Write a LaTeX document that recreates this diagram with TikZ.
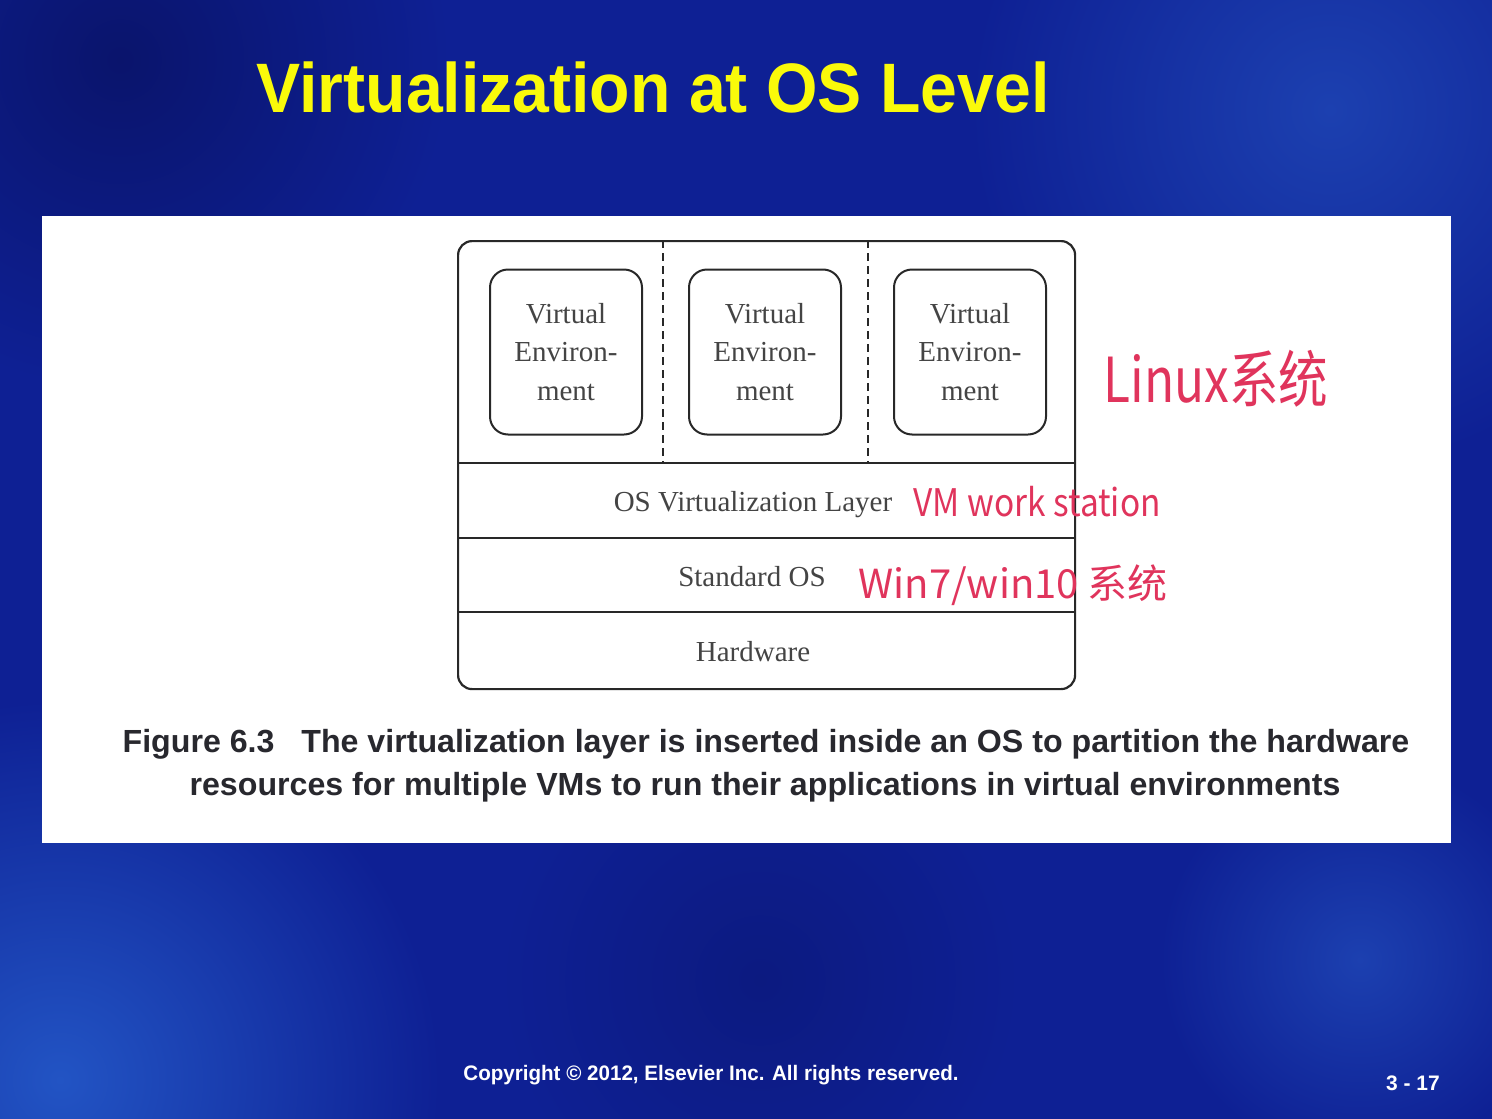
\documentclass[tikz,border=0pt]{standalone}
\usepackage{graphicx}
\usepackage{fontspec}
\setmainfont{Liberation Serif}
\setsansfont{Liberation Sans}
\newfontfamily\handfont{Noto Sans CJK SC}

\definecolor{slidebg}{RGB}{14,32,148}
\definecolor{slidedark}{RGB}{10,20,108}
\definecolor{slidedeep}{RGB}{12,26,128}
\definecolor{slidelight}{RGB}{34,84,196}
\definecolor{slidesoft}{RGB}{28,64,176}
\definecolor{titleyellow}{RGB}{250,250,10}
\definecolor{inkred}{RGB}{224,52,92}
\definecolor{figtext}{RGB}{68,68,68}
\definecolor{figline}{RGB}{40,40,40}
\definecolor{captext}{RGB}{40,40,46}

\tikzset{
  divider/.style={draw=figline, line width=2.6pt},
  partline/.style={draw=figline, line width=2pt, dash pattern=on 8pt off 5pt},
  vebox/.style={draw=figline, line width=2pt, rounded corners=18pt, fill=white,
    minimum width=152pt, minimum height=165pt, inner sep=0pt},
  vetext/.style={font=\fontsize{29}{38.5}\selectfont, text=figtext, align=center},
  layertext/.style={font=\fontsize{29}{34}\selectfont, text=figtext, anchor=base},
  handnote/.style={text=inkred, anchor=base west},
  captionline/.style={font=\sffamily\bfseries\fontsize{32}{43}\selectfont, text=captext, anchor=base},
  footer/.style={font=\sffamily\bfseries\fontsize{21}{24}\selectfont, text=white, anchor=base},
}

\begin{document}
\begin{tikzpicture}[x=1pt,y=-1pt]
  % slide background with soft light and dark patches
  \begin{scope}
    \clip (0,0) rectangle (1492,1119);
    \fill[slidebg] (0,0) rectangle (1492,1119);
    \shade[inner color=slidedark, outer color=slidebg] (120,60) circle[radius=330];
    \shade[inner color=slidesoft, outer color=slidebg] (1330,110) circle[radius=360];
    \shade[inner color=slidelight, outer color=slidebg] (60,1080) circle[radius=380];
    \shade[inner color=slidedeep, outer color=slidebg] (760,980) circle[radius=260];
    \shade[inner color=slidesoft, outer color=slidebg] (1360,960) circle[radius=200];
  \end{scope}
  \useasboundingbox (0,0) rectangle (1492,1119);

  % title
  \node (title) [font=\sffamily\bfseries\fontsize{70}{74}\selectfont, text=titleyellow, anchor=base]
    at (653,112) {\scalebox{0.945}[1]{Virtualization at OS Level}};

  % white figure panel
  \node (panel) [fill=white, minimum width=1409pt, minimum height=627pt, inner sep=0pt,
    anchor=north west] at (42,216) {};

  % outer frame of the stack
  \node (stack) [draw=figline, line width=2.2pt, rounded corners=14pt,
    minimum width=617pt, minimum height=448pt, inner sep=0pt, anchor=north west] at (457,240) {};

  % layer dividers
  \coordinate (d1l) at (457,463); \coordinate (d1r) at (1074,463);
  \coordinate (d2l) at (457,538); \coordinate (d2r) at (1074,538);
  \coordinate (d3l) at (457,612); \coordinate (d3r) at (1074,612);
  \draw[divider] (d1l) -- (d1r);
  \draw[divider] (d2l) -- (d2r);
  \draw[divider] (d3l) -- (d3r);

  % partitions between virtual environments
  \coordinate (p1t) at (663,240); \coordinate (p1b) at (663,463);
  \coordinate (p2t) at (868,240); \coordinate (p2b) at (868,463);
  \draw[partline] (p1t) -- (p1b);
  \draw[partline] (p2t) -- (p2b);

  % virtual environments
  \node (ve1) [vebox] at (566,352) {};
  \node (ve2) [vebox] at (765,352) {};
  \node (ve3) [vebox] at (970,352) {};
  \node[vetext] at (ve1) {Virtual\\Environ-\\ment};
  \node[vetext] at (ve2) {Virtual\\Environ-\\ment};
  \node[vetext] at (ve3) {Virtual\\Environ-\\ment};

  % layer labels
  \node (oslayer) [layertext] at (753,511) {OS Virtualization Layer};
  \node (stdos) [layertext] at (752,586) {Standard OS};
  \node (hw) [layertext] at (753,661) {Hardware};

  % handwritten notes
  \node (linux) [handnote, font=\handfont\fontsize{62}{66}\selectfont] at (1100,402)
    {\scalebox{0.8}[1]{Linux系统}};
  \node (vmws) [handnote, font=\handfont\fontsize{38}{40}\selectfont] at (910,516)
    {\scalebox{0.88}[1]{VM work station}};
  \node (winos) [handnote, font=\handfont\fontsize{40}{44}\selectfont] at (855,598)
    {Win7/win10 系统};

  % caption
  \node (cap1) [captionline] at (766,752)
    {\scalebox{1.005}[1]{Figure 6.3\ \ \ The virtualization layer is inserted inside an OS to partition the hardware}};
  \node (cap2) [captionline] at (765,795)
    {\scalebox{1.005}[1]{resources for multiple VMs to run their applications in virtual environments}};

  % footer
  \node (copy) [footer] at (711,1080)
    {\scalebox{0.98}[1]{Copyright \textcopyright{} 2012, Elsevier Inc. All rights reserved.}};
  \node (page) [footer] at (1413,1090) {3 - 17};
\end{tikzpicture}
\end{document}
